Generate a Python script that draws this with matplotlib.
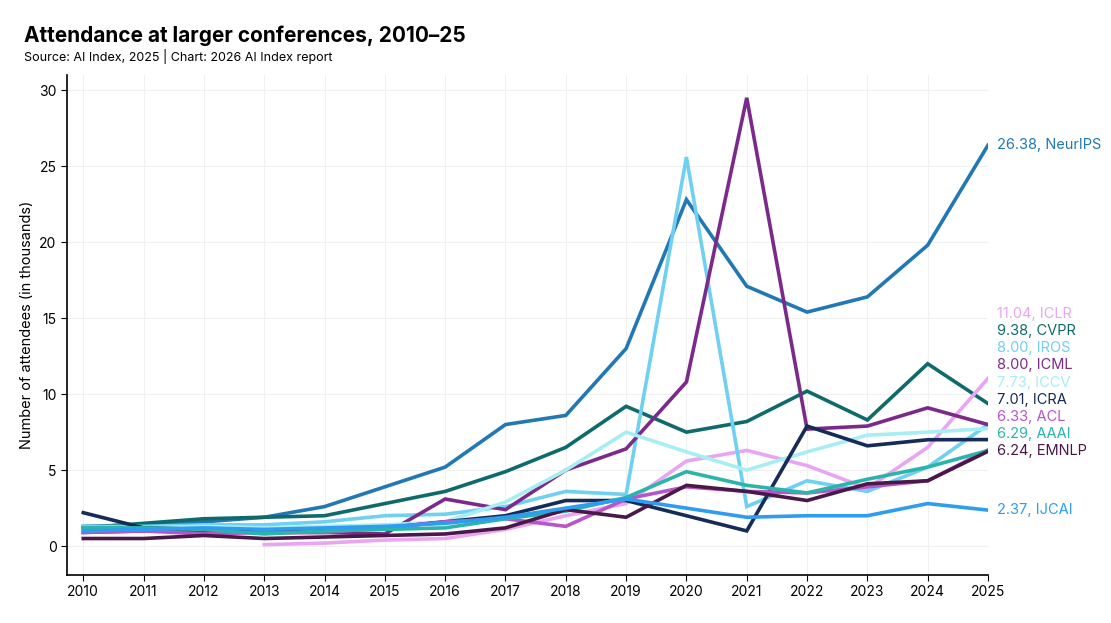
import matplotlib
matplotlib.use("Agg")
from matplotlib import pyplot as plt
import numpy as np

plt.rcParams['font.family'] = ['Inter', 'DejaVu Sans']

years = list(range(2010, 2026))

neurips = [1.3, 1.4, 1.6, 1.9, 2.6, 3.9, 5.2, 8.0, 8.6, 13.0, 22.8, 17.1, 15.4, 16.4, 19.8, 26.38]
cvpr = [1.2, 1.5, 1.8, 1.9, 2.0, 2.8, 3.6, 4.9, 6.5, 9.2, 7.5, 8.2, 10.2, 8.3, 12.0, 9.38]
iclr = [None, None, None, 0.1, 0.2, 0.4, 0.5, 1.1, 2.0, 2.8, 5.6, 6.3, 5.3, 3.8, 6.5, 11.04]
iros = [1.3, 1.3, 1.4, 1.4, 1.6, 2.0, 2.1, 2.6, 3.6, 3.4, 25.6, 2.6, 4.3, 3.6, 5.2, 8.00]
icml = [0.9, 1.0, 1.0, 0.9, 0.9, 0.8, 3.1, 2.4, 5.0, 6.4, 10.8, 29.5, 7.7, 7.9, 9.1, 8.00]
iccv = [1.0, 1.2, 1.3, 1.2, 1.3, 1.4, 1.6, 2.9, 5.0, 7.5, 6.2, 5.0, 6.2, 7.3, 7.5, 7.73]
icra = [2.2, 1.2, 1.1, 1.0, 1.1, 1.2, 1.6, 2.0, 3.0, 3.0, 2.0, 1.0, 7.9, 6.6, 7.0, 7.01]
acl = [0.9, 1.0, 0.8, 0.9, 0.9, 1.2, 1.6, 1.8, 1.3, 3.1, 3.9, 3.6, 3.5, 3.9, 4.3, 6.33]
aaai = [1.2, 1.2, 1.1, 0.8, 1.0, 1.1, 1.2, 1.8, 2.3, 3.2, 4.9, 4.0, 3.5, 4.4, 5.2, 6.29]
emnlp = [0.5, 0.5, 0.7, 0.5, 0.6, 0.7, 0.8, 1.2, 2.4, 1.9, 4.0, 3.6, 3.0, 4.1, 4.3, 6.24]
ijcai = [1.0, 1.1, 1.2, 1.1, 1.2, 1.3, 1.5, 1.9, 2.5, 3.1, 2.5, 1.9, 2.0, 2.0, 2.8, 2.37]

series = [
    ("NeurIPS", neurips, "#2178b4"),
    ("CVPR", cvpr, "#0f6b6b"),
    ("ICLR", iclr, "#e8a6f2"),
    ("IROS", iros, "#6fd0f2"),
    ("ICML", icml, "#7b2a8c"),
    ("ICCV", iccv, "#a6eef2"),
    ("ICRA", icra, "#162b57"),
    ("ACL", acl, "#b855c8"),
    ("AAAI", aaai, "#2ab5aa"),
    ("EMNLP", emnlp, "#4a1848"),
    ("IJCAI", ijcai, "#2e9df0"),
]

fig = plt.figure(figsize=(11.11, 6.23), dpi=100)
ax = fig.add_axes([67/1111, 1-575/623, (988-67)/1111, 500/623])

for name, vals, col in series:
    v = np.array([np.nan if x is None else x for x in vals], dtype=float)
    ax.plot(years, v, color=col, lw=2.6, solid_joinstyle='miter')

# stack end labels from the bottom so they don't overlap
gap = 1.13
order = sorted(range(len(series)), key=lambda i: (series[i][1][-1], -i))
prev = -99
label_y = {}
for i in order:
    y = max(series[i][1][-1], prev + gap)
    label_y[i] = y
    prev = y
for i, (name, vals, col) in enumerate(series):
    ax.text(2025.15, label_y[i], f"{vals[-1]:.2f}, {name}", color=col,
            fontsize=10.5, va='center', ha='left', clip_on=False)

ax.set_xlim(2009.73, 2025)
ax.set_ylim(-1.9, 31)
ax.set_xticks(years)
ax.set_yticks([0, 5, 10, 15, 20, 25, 30])
ax.tick_params(labelsize=10, length=4)
ax.grid(True, color='#f0f0f0', lw=0.8)
ax.set_axisbelow(True)
for s in ['top', 'right']:
    ax.spines[s].set_visible(False)
ax.spines['left'].set_linewidth(1.2)
ax.spines['bottom'].set_linewidth(1.2)
ax.set_ylabel("Number of attendees (in thousands)", fontsize=10.5)

fig.text(24/1111, 1-36/623, "Attendance at larger conferences, 2010–25",
         fontsize=15, fontweight='bold', va='center')
fig.text(24/1111, 1-56/623, "Source: AI Index, 2025 | Chart: 2026 AI Index report",
         fontsize=9, va='center')

fig.savefig("out.png", dpi=100)
